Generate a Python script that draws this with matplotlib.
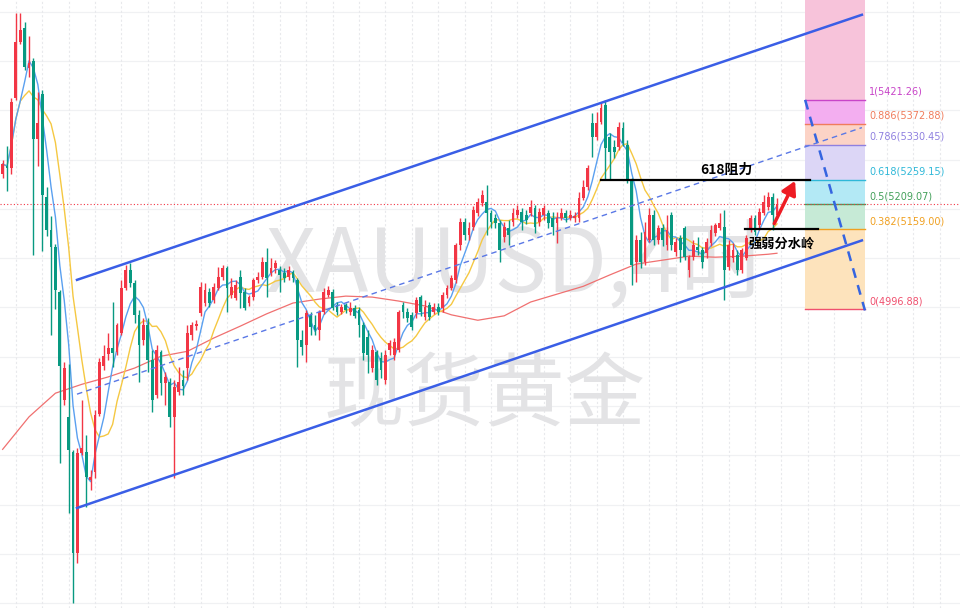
import matplotlib.pyplot as plt
import numpy as np
import pandas as pd

plt.rcParams['font.family'] = ['Noto Sans CJK SC', 'DejaVu Sans']

# 4H candles, XAUUSD
opens = [5271, 5287, 5283, 5425, 5539, 5567, 5486, 5500, 5342, 5433, 5224, 5157, 5123, 5031, 4812, 4778, 4706, 4501, 4704, 4706,
         4650, 4666, 4784, 4881, 4905, 4918, 4909, 4948, 5039, 5076, 5050, 4985, 4934, 4964, 4893, 4822, 4909, 4847, 4849, 4778,
         4828, 4853, 4877, 4944, 4962, 4989, 5009, 5031, 5015, 5039, 5062, 5080, 5025, 5019, 5062, 5031, 5009, 5021, 5056, 5062,
         5092, 5070, 5080, 5076, 5070, 5062, 5072, 5056, 4934, 4924, 4985, 4964, 4954, 4991, 5025, 5031, 5005, 4991, 5005, 4991,
         4999, 4995, 4964, 4940, 4877, 4909, 4897, 4853, 4914, 4903, 4914, 5005, 4991, 4985, 4989, 5021, 4981, 5005, 4991, 5001,
         4999, 5025, 5039, 5056, 5127, 5173, 5147, 5163, 5192, 5212, 5214, 5192, 5181, 5171, 5143, 5161, 5173, 5188, 5194, 5188,
         5192, 5202, 5173, 5188, 5192, 5181, 5171, 5181, 5192, 5181, 5181, 5181, 5222, 5244, 5374, 5346, 5376, 5411, 5346, 5326,
         5326, 5364, 5330, 5259, 5092, 5137, 5092, 5137, 5188, 5137, 5161, 5127, 5188, 5112, 5141, 5161, 5076, 5102, 5123, 5116,
         5110, 5131, 5151, 5161, 5163, 5082, 5100, 5106, 5076, 5100, 5157, 5181, 5167, 5192, 5204, 5224, 5188]
highs = [5299, 5328, 5425, 5598, 5598, 5579, 5551, 5506, 5437, 5441, 5244, 5186, 5129, 5035, 4889, 4885, 4711, 4715, 4812, 4741,
         4670, 4792, 4897, 4924, 4948, 5011, 4968, 5056, 5086, 5090, 5056, 4995, 4979, 4979, 4914, 4924, 4914, 4869, 4857, 4853,
         4879, 4873, 4964, 4970, 4974, 5052, 5050, 5039, 5050, 5082, 5086, 5084, 5060, 5056, 5076, 5039, 5025, 5060, 5072, 5102,
         5121, 5100, 5096, 5084, 5080, 5084, 5076, 5060, 4954, 4995, 4991, 4985, 4995, 5039, 5043, 5037, 5011, 5007, 5009, 5011,
         5005, 5001, 4970, 4954, 4924, 4914, 4909, 4914, 4934, 4938, 4995, 5011, 4999, 4991, 5021, 5025, 5015, 5011, 5009, 5009,
         5031, 5045, 5066, 5131, 5181, 5181, 5173, 5206, 5222, 5238, 5248, 5198, 5190, 5177, 5173, 5177, 5202, 5208, 5202, 5198,
         5218, 5208, 5202, 5208, 5198, 5194, 5194, 5202, 5198, 5198, 5194, 5234, 5259, 5289, 5395, 5397, 5417, 5421, 5354, 5340,
         5376, 5376, 5340, 5263, 5147, 5153, 5173, 5202, 5198, 5167, 5169, 5188, 5194, 5141, 5147, 5165, 5106, 5137, 5143, 5123,
         5141, 5167, 5171, 5192, 5198, 5137, 5131, 5116, 5121, 5147, 5188, 5188, 5202, 5228, 5234, 5232, 5222]
lows = [5263, 5236, 5271, 5421, 5535, 5482, 5468, 5106, 5287, 5114, 5145, 4944, 4997, 4684, 4802, 4583, 4400, 4481, 4700, 4595,
        4629, 4654, 4780, 4873, 4893, 4879, 4903, 4944, 5035, 5041, 4968, 4849, 4924, 4869, 4788, 4816, 4822, 4802, 4757, 4654,
        4822, 4822, 4853, 4934, 4954, 4983, 5003, 5001, 5009, 5035, 5056, 4991, 5019, 5015, 4999, 4995, 5003, 5015, 5050, 5058,
        5021, 5064, 5070, 5031, 5052, 5056, 5052, 4879, 4903, 4889, 4944, 4944, 4934, 4987, 5021, 4995, 4985, 4987, 4989, 4985,
        4979, 4940, 4893, 4867, 4869, 4842, 4857, 4844, 4903, 4893, 4909, 4979, 4970, 4954, 4979, 4983, 4974, 4974, 4987, 4985,
        4991, 5019, 5035, 5050, 5116, 5137, 5137, 5157, 5186, 5206, 5147, 5161, 5161, 5092, 5133, 5127, 5165, 5181, 5157, 5169,
        5186, 5151, 5165, 5177, 5161, 5147, 5131, 5177, 5173, 5177, 5173, 5173, 5218, 5238, 5305, 5340, 5372, 5259, 5259, 5303,
        5320, 5328, 5253, 5045, 5052, 5080, 5086, 5133, 5127, 5129, 5125, 5116, 5116, 5104, 5092, 5096, 5062, 5096, 5106, 5080,
        5100, 5125, 5145, 5157, 5015, 5076, 5092, 5066, 5070, 5096, 5153, 5147, 5157, 5188, 5198, 5157, 5181]
closes = [5291, 5283, 5417, 5539, 5563, 5488, 5496, 5342, 5374, 5228, 5157, 5123, 5035, 4881, 4877, 4711, 4501, 4704, 4715, 4656,
          4656, 4782, 4889, 4901, 4918, 4907, 4964, 5039, 5076, 5050, 4985, 4924, 4964, 4893, 4812, 4914, 4847, 4859, 4778, 4838,
          4849, 4840, 4948, 4964, 4966, 5041, 5035, 5009, 5041, 5062, 5080, 5039, 5041, 5045, 5029, 4999, 5021, 5056, 5062, 5092,
          5060, 5080, 5090, 5066, 5060, 5076, 5060, 4934, 4920, 4989, 4960, 4954, 4991, 5031, 5035, 4999, 4991, 5001, 4995, 4999,
          4983, 4964, 4907, 4903, 4914, 4853, 4873, 4903, 4928, 4930, 4991, 4991, 4979, 4960, 5015, 4991, 5001, 4981, 5001, 4991,
          5025, 5039, 5060, 5127, 5173, 5147, 5161, 5198, 5214, 5228, 5192, 5173, 5171, 5116, 5163, 5147, 5192, 5198, 5173, 5177,
          5204, 5163, 5194, 5202, 5171, 5163, 5181, 5192, 5181, 5188, 5186, 5222, 5244, 5283, 5346, 5374, 5405, 5324, 5315, 5315,
          5366, 5334, 5259, 5086, 5137, 5092, 5153, 5188, 5137, 5161, 5137, 5157, 5127, 5133, 5116, 5102, 5102, 5127, 5116, 5092,
          5133, 5157, 5167, 5171, 5076, 5127, 5116, 5076, 5116, 5141, 5181, 5153, 5194, 5214, 5224, 5188, 5209]

# long moving average (red), read once per day
ma_long_idx = list(range(0, 175, 6)) + [176]
ma_long = [4712, 4778, 4826, 4844, 4859, 4877, 4901, 4911, 4938, 4962, 4987, 5009, 5017, 5023, 5021, 5013,
           5003, 4985, 4974, 4983, 5011, 5027, 5043, 5066, 5088, 5096, 5104, 5102, 5104, 5108, 5110]

fib_ratios = ['1', '0.886', '0.786', '0.618', '0.5', '0.382', '0']
fib_prices = [5421.26, 5372.88, 5330.45, 5259.15, 5209.07, 5159.00, 4996.88]
fib_line_colors = ['#c844c8', '#f07c5c', '#8f80e0', '#2fb8d8', '#43a05a', '#f0a020', '#f0506e']
fib_fill_colors = ['#f3aef0', '#fcd3c6', '#dcd6f6', '#b3e9f5', '#c6ead6', '#fde3bc']
last_price = 5209.07

RED = '#f23645'
GREEN = '#089981'

fig = plt.figure(figsize=(9.6, 6.08), dpi=100)
ax = fig.add_axes([0, 0, 1, 1])
ax.set_xlim(-0.6, 217.6)
ax.set_ylim(4390, 5624)
ax.axis('off')

# grid
for p in range(4400, 5700, 100):
    ax.axhline(p, color='#f0f1f3', lw=0.9, zorder=0)
for d in np.arange(3, 218, 6):
    ax.axvline(d, color='#e8e9ec', lw=0.8, ls=(0, (2, 2)), zorder=0)

# watermark
ax.text(0.538, 0.56, 'XAUUSD,4时', transform=ax.transAxes, ha='center', va='center',
        fontsize=63, color='#e3e3e5', zorder=1)
ax.text(0.505, 0.348, '现货黄金', transform=ax.transAxes, ha='center', va='center',
        fontsize=58, color='#e3e3e5', zorder=1)

# fib retracement box
fx0, fx1 = 182.4, 196.0
ax.fill_between([fx0, fx1], fib_prices[0], 5700, color='#f7c3da', lw=0, zorder=1)
for k in range(len(fib_prices) - 1):
    ax.fill_between([fx0, fx1], fib_prices[k + 1], fib_prices[k], color=fib_fill_colors[k], lw=0, zorder=1)
for r, p, c in zip(fib_ratios, fib_prices, fib_line_colors):
    ax.plot([fx0, fx1], [p, p], color=c, lw=1, zorder=2)
    ax.text(fx1 + 0.9, p + 6, f'{r}({p:.2f})', color=c, fontsize=7, va='bottom', ha='left',
            family=['DejaVu Sans'])
ax.plot([fx0, fx1], [fib_prices[0], fib_prices[-1] - 3], color='#3565e0', lw=1.8, ls=(0, (4, 3)), zorder=6)

# moving averages
cl = pd.Series(closes)
x = np.arange(len(closes))
ax.plot(ma_long_idx, ma_long, color='#f07070', lw=0.9, zorder=3)
ax.plot(x, cl.rolling(10, min_periods=1).mean(), color='#f5c842', lw=1, zorder=3)
ax.plot(x, cl.rolling(5, min_periods=1).mean(), color='#5aa0f0', lw=1, zorder=3)

# candles
o = np.array(opens, float)
c = np.array(closes, float)
h = np.maximum(np.array(highs, float), np.maximum(o, c))
l = np.minimum(np.array(lows, float), np.minimum(o, c))
colors = np.where(c >= o, RED, GREEN)
ax.vlines(x, l, h, colors=colors, lw=1, zorder=4)
body = np.maximum(np.abs(c - o), 2.5)
ax.bar(x, body, bottom=np.minimum(o, c), width=0.66, color=colors, lw=0, zorder=5)

# channel
ch_x = [16.9, 195.3]
ax.plot(ch_x, [5056, 5594], color='#3a5ee6', lw=1.8, zorder=6)
ax.plot(ch_x, [4593, 5136], color='#3a5ee6', lw=1.8, zorder=6)
ax.plot(ch_x, [4824, 5365], color='#5a78e6', lw=1, ls=(0, (4, 3)), zorder=6)

# current price
ax.axhline(last_price, color=RED, lw=0.8, ls=(0, (1, 2)), zorder=2)

# key levels
ax.plot([136.0, 183.5], [fib_prices[3], fib_prices[3]], color='black', lw=1.6, zorder=7)
ax.text(164.5, fib_prices[3] + 6, '618阻力', ha='center', va='bottom', fontsize=10,
        fontweight='bold', color='black', zorder=8)
ax.plot([168.7, 185.3], [fib_prices[5], fib_prices[5]], color='black', lw=1.6, zorder=7)
ax.text(177.0, fib_prices[5] - 30, '强弱分水岭', ha='center', va='center', fontsize=9.5,
        fontweight='bold', color='black', zorder=8)

ax.annotate('', xy=(180.4, 5262), xytext=(175.1, 5165),
            arrowprops=dict(arrowstyle='-|>,head_length=0.8,head_width=0.45', color='#ee1c24', lw=2.5),
            zorder=8)

fig.savefig('out.png', dpi=100)
